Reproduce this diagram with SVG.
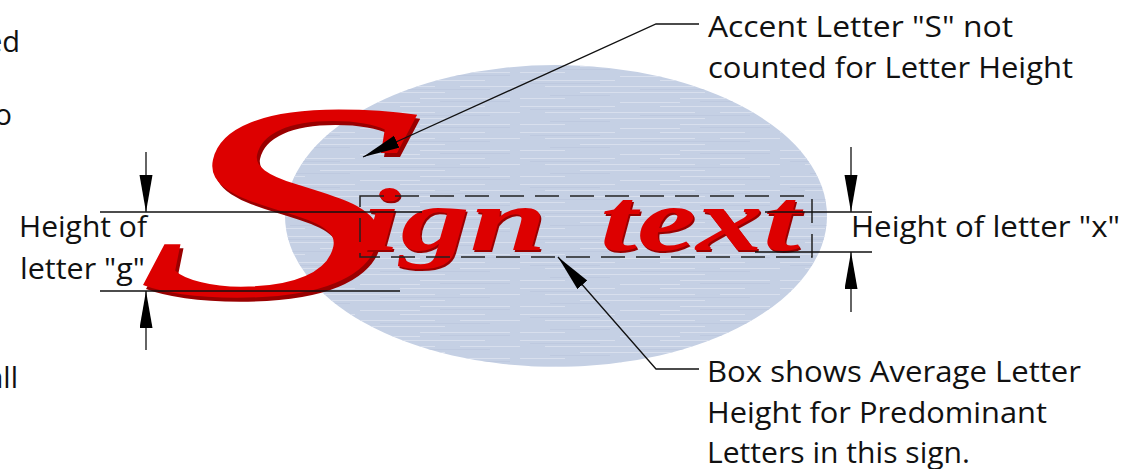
<svg xmlns="http://www.w3.org/2000/svg" width="1124" height="469" viewBox="0 0 1124 469">
<style>
  .lbl { font-family: "Open Sans", "Liberation Sans", sans-serif; font-size: 29px; fill: #111; }
  .ln { stroke: #111; stroke-width: 1.3; fill: none; }
  .arr { stroke: #111; stroke-width: 1.3; fill: none; marker-end: url(#ah); }
  .box { stroke: #222; stroke-width: 1.5; fill: none; stroke-dasharray: 24 11; }
  .sign { font-family: "Liberation Serif", "Times New Roman", serif; font-style: italic; font-weight: bold; }
  .swash { font-family: "Liberation Serif", "Times New Roman", serif; font-style: italic; font-weight: normal; }
  .red { fill: #dd0000; }
  .shade { fill: #990000; }
</style>
<defs>
  <marker id="ah" markerUnits="userSpaceOnUse" markerWidth="38" markerHeight="14" refX="37" refY="6.5" orient="auto">
    <path d="M0,0 L37,6.5 L0,13 z" fill="#000"/>
  </marker>
  <pattern id="streaks" patternUnits="userSpaceOnUse" width="260" height="26">
    <path d="M0 2.5h95M140 2.5h85M25 8.5h150M200 8.5h60M60 14.5h125M0 20.5h45M160 20.5h90M100 24.5h60" stroke="#d8dfed" stroke-width="1.2"/>
    <path d="M10 5.5h70M120 11.5h110M30 17.5h60M180 23.5h70" stroke="#bcc8de" stroke-width="0.8"/>
  </pattern>
  <clipPath id="ellclip">
    <ellipse cx="556" cy="216" rx="271" ry="151"/>
  </clipPath>
</defs>

<g id="background-oval">
  <ellipse cx="556" cy="216" rx="271" ry="151" fill="#c5d0e4"/>
  <rect x="280" y="60" width="560" height="320" fill="url(#streaks)" clip-path="url(#ellclip)"/>
</g>

<g id="sign-text">
  <text class="swash shade" font-size="280" transform="translate(138,299) skewX(-12) scale(1.8,1)" x="0" y="0">S</text>
  <text class="swash red" font-size="280" transform="translate(135,295) skewX(-12) scale(1.8,1)" x="0" y="0">S</text>
  <text class="sign shade" font-size="88" x="363.5" y="251.5" textLength="185" lengthAdjust="spacingAndGlyphs">ign</text>
  <text class="sign red" font-size="88" x="362" y="250" textLength="185" lengthAdjust="spacingAndGlyphs">ign</text>
  <text class="sign shade" font-size="88" x="601.5" y="251.5" textLength="200" lengthAdjust="spacingAndGlyphs">text</text>
  <text class="sign red" font-size="88" x="600" y="250" textLength="200" lengthAdjust="spacingAndGlyphs">text</text>
</g>

<g id="average-box">
  <rect class="box" x="360" y="196" width="452" height="61"/>
</g>

<g id="connectors">
  <line class="ln" x1="100" y1="212" x2="422" y2="212"/>
  <line class="ln" x1="100" y1="291" x2="400" y2="291"/>
  <line class="ln" x1="765" y1="212" x2="872" y2="212"/>
  <line class="ln" x1="755" y1="252" x2="872" y2="252"/>
  <line class="arr" x1="146" y1="152" x2="146" y2="212"/>
  <line class="arr" x1="146" y1="350" x2="146" y2="291"/>
  <line class="arr" x1="851" y1="147" x2="851" y2="212"/>
  <line class="arr" x1="851" y1="312" x2="851" y2="252"/>
  <polyline class="arr" points="699,24 656,24 363,157"/>
  <polyline class="arr" points="699,369 656,369 558,257"/>
</g>

<g id="label-accent">
  <text class="lbl" x="708" y="37" textLength="305" lengthAdjust="spacingAndGlyphs">Accent Letter "S" not</text>
  <text class="lbl" x="708" y="78" textLength="365" lengthAdjust="spacingAndGlyphs">counted for Letter Height</text>
</g>
<g id="label-height-g">
  <text class="lbl" x="19" y="237" textLength="128" lengthAdjust="spacingAndGlyphs">Height of</text>
  <text class="lbl" x="20" y="279" textLength="125" lengthAdjust="spacingAndGlyphs">letter "g"</text>
</g>
<g id="label-height-x">
  <text class="lbl" x="851" y="237" textLength="269" lengthAdjust="spacingAndGlyphs">Height of letter "x"</text>
</g>
<g id="label-box">
  <text class="lbl" x="707" y="382" textLength="374" lengthAdjust="spacingAndGlyphs">Box shows Average Letter</text>
  <text class="lbl" x="707" y="423" textLength="340" lengthAdjust="spacingAndGlyphs">Height for Predominant</text>
  <text class="lbl" x="707" y="463" textLength="263" lengthAdjust="spacingAndGlyphs">Letters in this sign.</text>
</g>
<g id="clipped-left-text">
  <text class="lbl" x="20" y="52" text-anchor="end">ed</text>
  <text class="lbl" x="12" y="125" text-anchor="end">o</text>
  <text class="lbl" x="18" y="388" text-anchor="end">all</text>
</g>
</svg>
